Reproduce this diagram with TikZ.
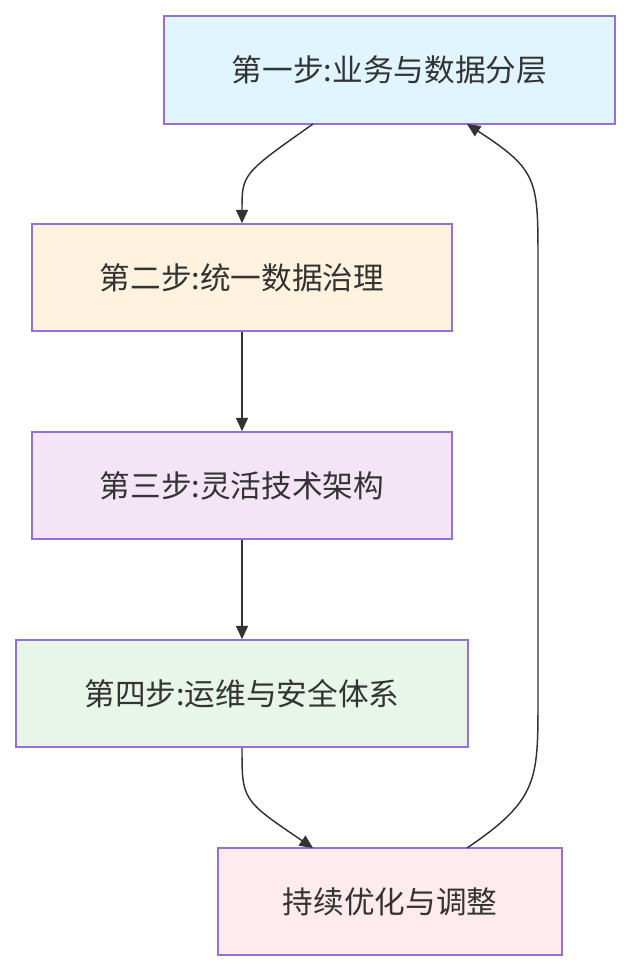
\documentclass[tikz,border=0pt]{standalone}
\usepackage{fontspec}
\setmainfont{Noto Sans CJK SC}
\usetikzlibrary{arrows.meta}
\definecolor{edgeline}{HTML}{9370DB}
\definecolor{txt}{HTML}{333333}
\definecolor{fillone}{HTML}{E1F5FE}
\definecolor{filltwo}{HTML}{FFF3E0}
\definecolor{fillthree}{HTML}{F3E5F5}
\definecolor{fillfour}{HTML}{E8F5E9}
\definecolor{fillfive}{HTML}{FFEBEE}
\tikzset{
	stepbox/.style={draw=edgeline, line width=1.2pt, text=txt, font=\fontsize{23}{26}\selectfont, inner sep=0pt},
	flow/.style={draw=txt, line width=1.1pt, -{Triangle[length=10pt,width=9pt]}}
}
\begin{document}
\begin{tikzpicture}[x=0.75pt,y=-0.75pt]
	\useasboundingbox (0,0) rectangle (631,972);

	\node[stepbox, fill=fillone, minimum width=451*0.75pt, minimum height=108*0.75pt] (s1) at (389.5,70) {第一步:业务与数据分层};
	\node[stepbox, fill=filltwo, minimum width=420*0.75pt, minimum height=107*0.75pt] (s2) at (242,277.5) {第二步:统一数据治理};
	\node[stepbox, fill=fillthree, minimum width=420*0.75pt, minimum height=107*0.75pt] (s3) at (242,485.5) {第三步:灵活技术架构};
	\node[stepbox, fill=fillfour, minimum width=452*0.75pt, minimum height=107*0.75pt] (s4) at (242,693.5) {第四步:运维与安全体系};
	\node[stepbox, fill=fillfive, minimum width=344*0.75pt, minimum height=107*0.75pt] (s5) at (390,901.5) {持续优化与调整};

	\coordinate (a1) at (313,124);
	\coordinate (a5) at (313,848);
	\coordinate (b5) at (467,848);
	\coordinate (b1) at (467,124);

	\draw[flow] (a1) .. controls (242,174) .. (s2.north);
	\draw[flow] (s2) -- (s3);
	\draw[flow] (s3) -- (s4);
	\draw[flow] (s4.south) .. controls (242,800) .. (a5);
	\draw[flow] (b5) .. controls (538,800) and (538,780) .. (538,700)
		-- (538,260) .. controls (538,180) and (538,170) .. (b1);
\end{tikzpicture}
\end{document}
